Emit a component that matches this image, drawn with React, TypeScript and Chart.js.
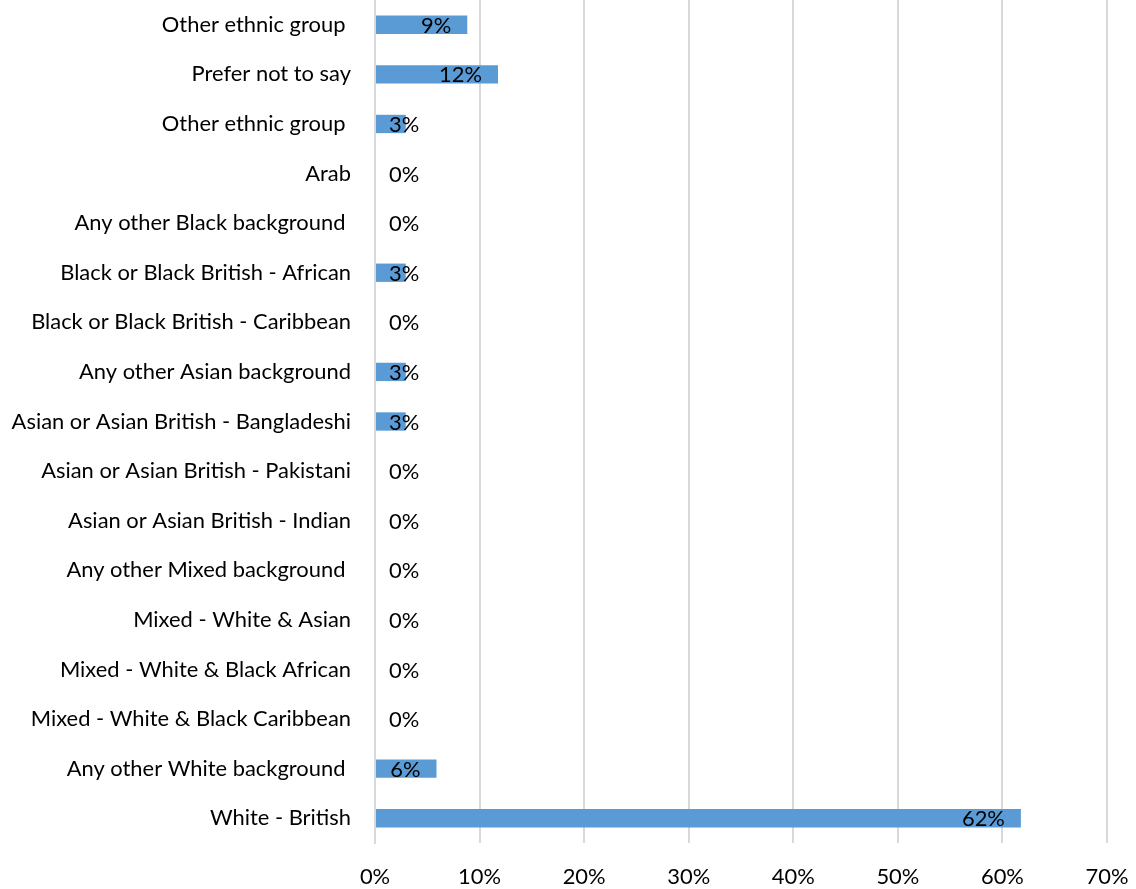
import React, { useEffect, useRef } from "react";
import { Chart, registerables } from "chart.js";

Chart.register(...registerables);

const categories: string[] = [
  "Other ethnic group ",
  "Prefer not to say",
  "Other ethnic group ",
  "Arab",
  "Any other Black background ",
  "Black or Black British - African",
  "Black or Black British - Caribbean",
  "Any other Asian background",
  "Asian or Asian British - Bangladeshi",
  "Asian or Asian British - Pakistani",
  "Asian or Asian British - Indian",
  "Any other Mixed background ",
  "Mixed - White & Asian",
  "Mixed - White & Black African",
  "Mixed - White & Black Caribbean",
  "Any other White background ",
  "White - British",
];

const counts: number[] = [3, 4, 1, 0, 0, 1, 0, 1, 1, 0, 0, 0, 0, 0, 0, 2, 21];
const total = 34;
const percentValues: number[] = counts.map((c) => (c / total) * 100);

const xTicks: number[] = [0, 10, 20, 30, 40, 50, 60, 70];

const FONT = "Lato";
const FONT_SIZE = 21.9;

const labelPlugin = {
  id: "barLabels",
  afterDatasetsDraw(chart: any) {
    const ctx = chart.ctx;
    const meta = chart.getDatasetMeta(0);
    const xScale = chart.scales.x;
    const x0 = xScale.getPixelForValue(0);
    ctx.save();
    ctx.font = `${FONT_SIZE}px ${FONT}`;
    ctx.fillStyle = "#000000";
    ctx.textBaseline = "middle";
    ctx.textAlign = "left";
    meta.data.forEach((bar: any, i: number) => {
      const v = percentValues[i];
      const text = Math.round(v) + "%";
      const w = ctx.measureText(text).width;
      const left = Math.max(bar.x - 16 - w, x0 + 14);
      ctx.fillText(text, left, bar.y + 1);
    });
    ctx.restore();
  },
};

export default function App() {
  const ref = useRef<HTMLCanvasElement>(null);
  useEffect(() => {
    if (!ref.current) return;
    const chart = new Chart(ref.current, {
      type: "bar",
      data: {
        labels: categories,
        datasets: [
          {
            data: percentValues,
            backgroundColor: "#5b9bd5",
            borderWidth: 0,
            barPercentage: 0.37,
            categoryPercentage: 1,
          },
        ],
      },
      options: {
        indexAxis: "y",
        responsive: false,
        animation: false,
        maintainAspectRatio: false,
        layout: { padding: { left: 0, right: 29, top: 0, bottom: 0 } },
        plugins: {
          legend: { display: false },
          tooltip: { enabled: false },
        },
        scales: {
          x: {
            min: 0,
            max: 70,
            afterBuildTicks: (scale: any) => {
              scale.ticks = xTicks.map((v) => ({ value: v }));
            },
            afterFit: (scale: any) => {
              scale.height = 46;
              scale.paddingLeft = 0;
              scale.paddingRight = 0;
            },
            grid: {
              color: "#d9d9d9",
              lineWidth: 2,
              drawTicks: false,
            },
            border: { display: false },
            ticks: {
              padding: 21,
              color: "#000000",
              font: { family: FONT, size: FONT_SIZE },
              callback: (v: any) => v + "%",
            },
          },
          y: {
            afterFit: (scale: any) => {
              scale.width = 375;
              scale.paddingTop = 0;
              scale.paddingBottom = 0;
            },
            grid: { display: false, drawTicks: false },
            border: { display: true, color: "#d9d9d9", width: 2 },
            ticks: {
              padding: 24,
              color: "#000000",
              font: { family: FONT, size: FONT_SIZE },
              autoSkip: false,
            },
          },
        },
      },
      plugins: [labelPlugin],
    });
    return () => chart.destroy();
  }, []);
  return (
    <div style={{ position: "absolute", left: 0, top: 0, width: 1136, height: 889 }}>
      <canvas ref={ref} width={1136} height={889} style={{ display: "block" }} />
    </div>
  );
}
